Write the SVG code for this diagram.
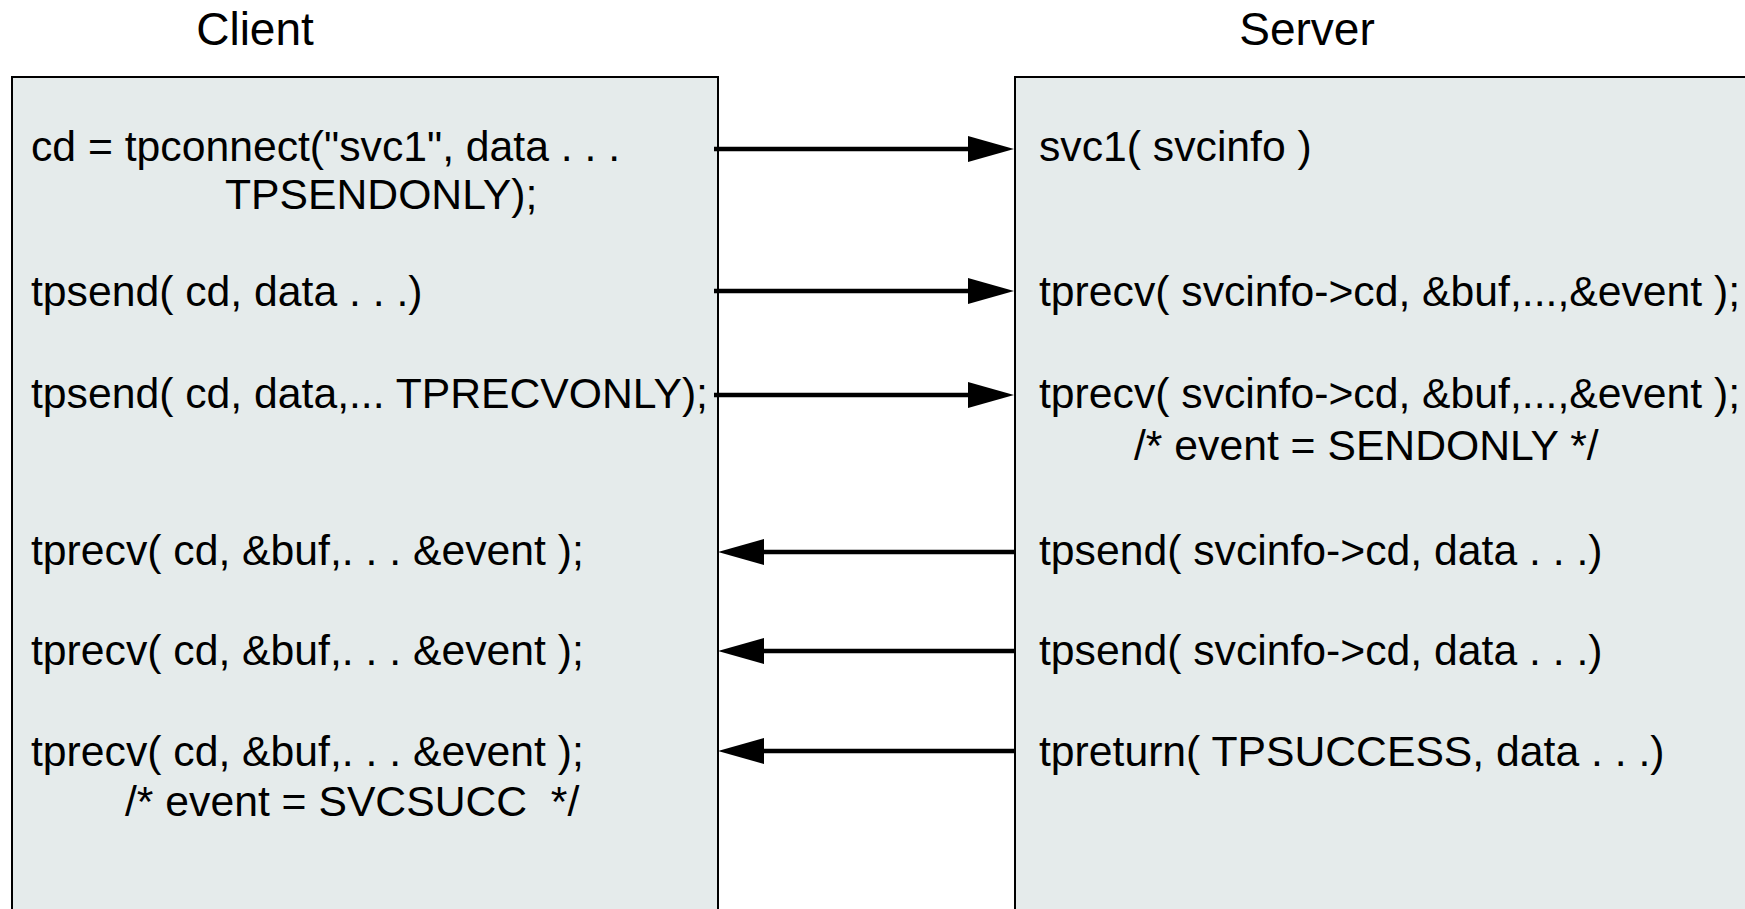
<svg xmlns="http://www.w3.org/2000/svg" width="1745" height="909" viewBox="0 0 1745 909">
  <style>
    .title { font-family: "Liberation Sans", Arial, sans-serif; font-size: 46px; fill: #000; text-anchor: middle; }
    .code { font-family: "Liberation Sans", Arial, sans-serif; font-size: 42.7px; fill: #000; }
    .panel { fill: #e5ebeb; stroke: #000; stroke-width: 2; }
    .msg { stroke: #000; stroke-width: 4.5; fill: none; }
  </style>
  <defs>
    <marker id="head" markerUnits="userSpaceOnUse" markerWidth="46" markerHeight="26" refX="1" refY="13" orient="auto">
      <path d="M0,0 L46,13 L0,26 z" fill="#000"/>
    </marker>
  </defs>

  <rect width="1745" height="909" fill="#fff"/>

  <!-- client process -->
  <g id="client">
    <text class="title" x="255" y="45">Client</text>
    <rect class="panel" x="12" y="77" width="706" height="850"/>
    <text class="code" x="31" y="161">cd = tpconnect("svc1", data . . .</text>
    <text class="code" x="225" y="209">TPSENDONLY);</text>
    <text class="code" x="31" y="306">tpsend( cd, data . . .)</text>
    <text class="code" x="31" y="408">tpsend( cd, data,... TPRECVONLY);</text>
    <text class="code" x="31" y="565">tprecv( cd, &amp;buf,. . . &amp;event );</text>
    <text class="code" x="31" y="665">tprecv( cd, &amp;buf,. . . &amp;event );</text>
    <text class="code" x="31" y="766">tprecv( cd, &amp;buf,. . . &amp;event );</text>
    <text class="code" x="125" y="816" xml:space="preserve">/* event = SVCSUCC  */</text>
  </g>

  <!-- server process -->
  <g id="server">
    <text class="title" x="1307" y="45">Server</text>
    <rect class="panel" x="1015" y="77" width="760" height="850"/>
    <text class="code" x="1039" y="161">svc1( svcinfo )</text>
    <text class="code" x="1039" y="306">tprecv( svcinfo-&gt;cd, &amp;buf,...,&amp;event );</text>
    <text class="code" x="1039" y="408">tprecv( svcinfo-&gt;cd, &amp;buf,...,&amp;event );</text>
    <text class="code" x="1134" y="460">/* event = SENDONLY */</text>
    <text class="code" x="1039" y="565">tpsend( svcinfo-&gt;cd, data . . .)</text>
    <text class="code" x="1039" y="665">tpsend( svcinfo-&gt;cd, data . . .)</text>
    <text class="code" x="1039" y="766">tpreturn( TPSUCCESS, data . . .)</text>
  </g>

  <!-- messages between client and server -->
  <g id="connectors">
    <path class="msg" d="M714,149 H969" marker-end="url(#head)"/>
    <path class="msg" d="M714,291 H969" marker-end="url(#head)"/>
    <path class="msg" d="M714,395 H969" marker-end="url(#head)"/>
    <path class="msg" d="M1015,552 H763" marker-end="url(#head)"/>
    <path class="msg" d="M1015,651 H763" marker-end="url(#head)"/>
    <path class="msg" d="M1015,751 H763" marker-end="url(#head)"/>
  </g>
</svg>
